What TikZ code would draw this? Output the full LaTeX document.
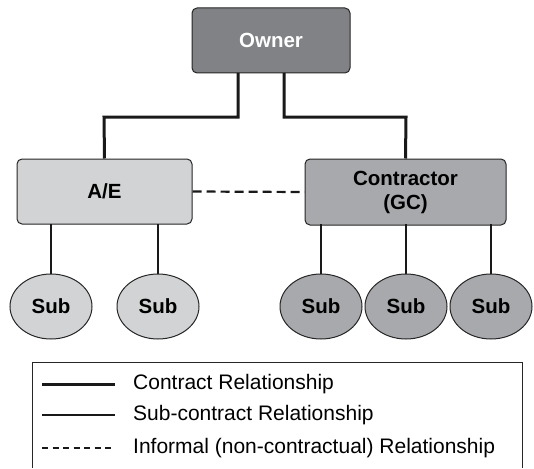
\documentclass[tikz,border=0pt]{standalone}
\usepackage{fontspec}
\setmainfont{Liberation Sans}
\usetikzlibrary{shapes.geometric}
\begin{document}
\begin{tikzpicture}[x=1pt,y=-1pt,
  box/.style={draw=black!85, line width=1pt, rounded corners=5pt, inner sep=0pt,
    font=\fontsize{20.5}{24}\selectfont\bfseries, align=center},
  sub/.style={draw=black!85, line width=1pt, ellipse, inner sep=0pt,
    minimum width=82pt, minimum height=65pt, font=\fontsize{20.5}{24}\selectfont\bfseries},
  contract/.style={line width=3pt, black!90},
  subcontract/.style={line width=1.8pt, black!90},
  informal/.style={line width=2.2pt, black!90, dash pattern=on 9pt off 5pt},
  legtext/.style={anchor=west, inner sep=0pt, font=\fontsize{21}{24}\selectfont}
]
\useasboundingbox (0,0) rectangle (534,468);
\definecolor{ownergray}{HTML}{808285}
\definecolor{aegray}{HTML}{D1D3D4}
\definecolor{gcgray}{HTML}{A7A9AC}

% organisation boxes
\node[box, fill=ownergray, text=white, minimum width=158pt, minimum height=65pt] (owner) at (271,40.5) {Owner};
\node[box, fill=aegray, minimum width=175pt, minimum height=65pt] (ae) at (104.5,191.5) {A/E};
\node[box, fill=gcgray, minimum width=201pt, minimum height=66pt] (gc) at (405.5,192) {Contractor\\(GC)};

% subcontractors
\node[sub, fill=aegray] (s1) at (51,306.5) {Sub};
\node[sub, fill=aegray] (s2) at (158,306.5) {Sub};
\node[sub, fill=gcgray] (s3) at (321,306.5) {Sub};
\node[sub, fill=gcgray] (s4) at (406,306.5) {Sub};
\node[sub, fill=gcgray] (s5) at (491,306.5) {Sub};

% contract relationships from the owner
\coordinate (oL) at (238,73);
\coordinate (oR) at (284,73);
\draw[contract] (oL) |- (104,117) -- (ae.north);
\draw[contract] (oR) |- (406,117) -- (gc.north);

% informal link
\draw[informal] (ae.east) -- (gc.west);

% sub-contract relationships
\foreach \s/\x in {s1/51, s2/158, s3/321, s4/406, s5/491}
  \draw[subcontract] (\x,224) -- (\s.north);

% legend
\draw[black!85, line width=1pt] (32,468) |- (522,362) -- (522,468);
\coordinate (l1a) at (42,384); \coordinate (l1b) at (115,384);
\coordinate (l2a) at (42,415); \coordinate (l2b) at (115,415);
\coordinate (l3a) at (42,448); \coordinate (l3b) at (115,448);
\draw[contract] (l1a) -- (l1b);
\draw[subcontract] (l2a) -- (l2b);
\draw[informal, line width=1.8pt, dash pattern=on 6pt off 4.5pt] (l3a) -- (l3b);
\node[legtext] (t1) at (133,384) {Contract Relationship};
\node[legtext] (t2) at (133,415) {Sub-contract Relationship};
\node[legtext] (t3) at (133,448) {Informal (non-contractual) Relationship};
\end{tikzpicture}
\end{document}
